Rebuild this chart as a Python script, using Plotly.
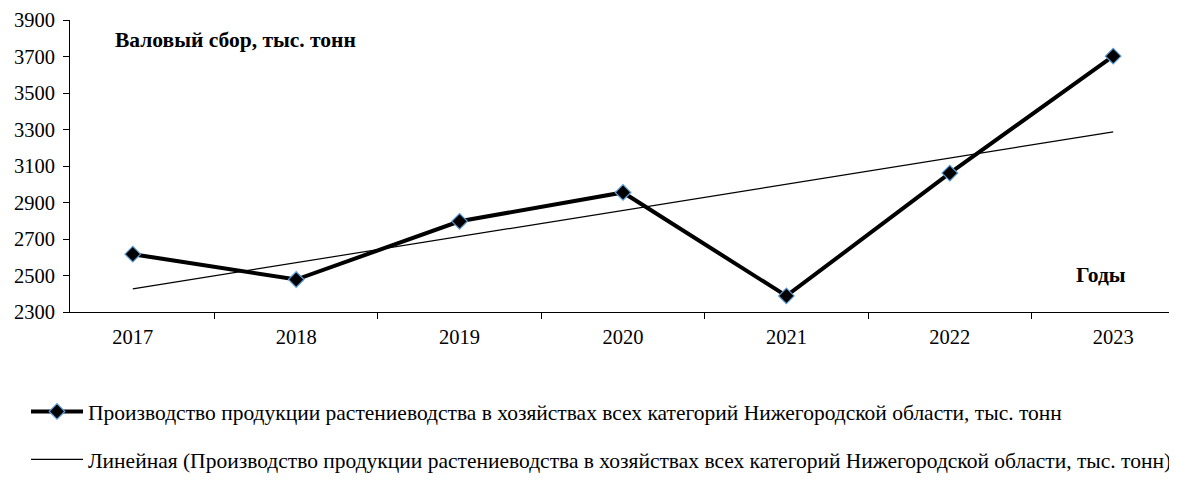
import numpy as np
import plotly.graph_objects as go

years = ["2017", "2018", "2019", "2020", "2021", "2022", "2023"]
production = [2617, 2478, 2797, 2955, 2388, 3061, 3702]

series_name = "Производство продукции растениеводства в хозяйствах всех категорий Нижегородской области, тыс. тонн"
trend_name = "Линейная (Производство продукции растениеводства в хозяйствах всех категорий Нижегородской области, тыс. тонн)"
y_title = "Валовый сбор, тыс. тонн"
x_title = "Годы"

# linear trend (least squares) computed from the data
idx = np.arange(1, len(years) + 1)
slope, intercept = np.polyfit(idx, production, 1)
trend = list(slope * idx + intercept)

FONT = "Liberation Serif"
TICK_FS = 20.5
TEXT_FS = 21.5

fig = go.Figure()
fig.add_trace(go.Scatter(
    x=years, y=production, mode="lines+markers", name=series_name,
    line=dict(color="black", width=4),
    marker=dict(symbol="diamond", size=12, color="black",
                line=dict(color="#5B9BD5", width=1.2)),
    legendgroup="a",
))
fig.add_trace(go.Scatter(
    x=years, y=trend, mode="lines", name=trend_name,
    line=dict(color="black", width=1.2),
    legendgroup="b",
))

fig.update_layout(
    width=1169, height=474,
    margin=dict(l=62, r=1, t=12, b=170),
    paper_bgcolor="white", plot_bgcolor="white",
    font=dict(family=FONT, size=TICK_FS, color="black"),
    showlegend=True,
    legend=dict(
        orientation="v", x=-0.037, xanchor="left", y=-0.2705, yanchor="top",
        font=dict(family=FONT, size=TEXT_FS, color="black"),
        tracegroupgap=17, itemwidth=52, bgcolor="rgba(0,0,0,0)",
    ),
    xaxis=dict(
        type="category", showline=True, linecolor="black", linewidth=1,
        ticks="outside", tickson="boundaries", ticklen=6, tickcolor="black",
        showgrid=False, zeroline=False, ticklabelstandoff=6,
        tickfont=dict(family=FONT, size=TICK_FS),
    ),
    yaxis=dict(
        range=[2300, 3900], dtick=200, tick0=2300,
        showline=True, linecolor="black", linewidth=1,
        ticks="outside", ticklen=6, tickcolor="black",
        showgrid=False, zeroline=False, ticklabelstandoff=4,
        tickfont=dict(family=FONT, size=TICK_FS),
    ),
    annotations=[
        dict(text="<b>" + y_title + "</b>", xref="paper", yref="paper",
             x=0.0389, y=0.9315, xanchor="left", yanchor="middle", showarrow=False,
             font=dict(family=FONT, size=TEXT_FS, color="black")),
        dict(text="<b>" + x_title + "</b>", xref="paper", yref="paper",
             x=0.9566, y=0.1267, xanchor="right", yanchor="middle", showarrow=False,
             font=dict(family=FONT, size=TEXT_FS, color="black")),
    ],
)

fig.write_html("out.html")
